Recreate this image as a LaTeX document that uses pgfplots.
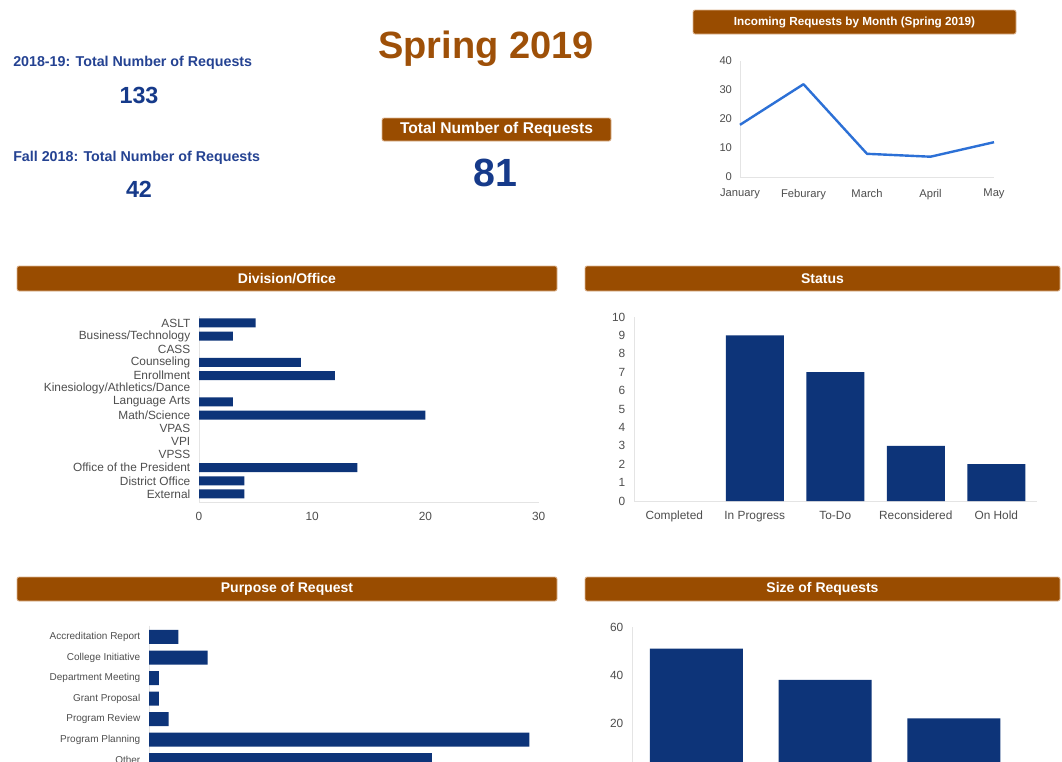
\documentclass[border=0pt]{standalone}
\usepackage{pgfplots}
\pgfplotsset{compat=1.18}
\usepackage{fontspec}
\setmainfont{Liberation Sans}
\definecolor{hdr}{RGB}{153,76,0}
\definecolor{hdredge}{RGB}{222,182,146}
\definecolor{springc}{RGB}{158,80,8}
\definecolor{numblue}{RGB}{22,58,138}
\definecolor{ttlblue}{RGB}{36,66,146}
\definecolor{barblue}{RGB}{13,52,121}
\definecolor{lineblue}{RGB}{44,112,214}
\definecolor{axgray}{RGB}{228,228,228}
\definecolor{lblgray}{RGB}{78,78,78}
\newcommand\hdrbox[6]{%
  \path[fill=hdr, draw=hdredge, line width=0.6pt, rounded corners=1.5pt] (#1,#2) rectangle (#3,#4);
  \node[text=white, inner sep=0pt, font=\bfseries\fontsize{#5}{#5}\selectfont] at ({(#1+#3)/2},{(#2+#4)/2}) {#6};}
\pgfplotsset{
  dash/.style={scale only axis, axis lines*=left,
    axis line style={draw=axgray, line width=0.75pt},
    major tick length=0pt, tick style={draw=none},
    ticklabel style={text=lblgray},
    /pgf/number format/assume math mode=true, clip=false},
}
\begin{document}
\begin{tikzpicture}
\useasboundingbox (0pt,0pt) rectangle (796.5pt,-570.75pt);
\fill[white] (0pt,0pt) rectangle (796.5pt,-570.75pt);
\clip (0pt,0pt) rectangle (796.5pt,-570.75pt);

\begin{scope}[x=0.75pt,y=-0.75pt]
% ---------- top-left figures ----------
\node[anchor=west, inner sep=0pt, text=ttlblue, font=\bfseries\fontsize{10.7}{12}\selectfont] at (13,62.5) {2018-19: Total Number of Requests};
\node[inner sep=0pt, text=numblue, font=\bfseries\fontsize{17.5}{20}\selectfont] at (139,95) {133};
\node[anchor=west, inner sep=0pt, text=ttlblue, font=\bfseries\fontsize{10.7}{12}\selectfont] at (13,157.5) {Fall 2018: Total Number of Requests};
\node[inner sep=0pt, text=numblue, font=\bfseries\fontsize{17.5}{20}\selectfont] at (139,189) {42};

% ---------- centre ----------
\node[inner sep=0pt, text=springc, font=\bfseries\fontsize{28.5}{30}\selectfont] at (486,49) {Spring 2019};
\hdrbox{382}{118}{611}{141}{11.7}{Total Number of Requests}
\node[inner sep=0pt, text=numblue, font=\bfseries\fontsize{29.5}{32}\selectfont] at (495,173) {81};

% ---------- headers ----------
\hdrbox{693}{10}{1016}{34}{8.8}{Incoming Requests by Month (Spring 2019)}
\hdrbox{17}{266}{557}{291}{10.5}{Division/Office}
\hdrbox{585}{266}{1060}{291}{10.5}{Status}
\hdrbox{17}{577}{557}{601}{10.5}{Purpose of Request}
\hdrbox{585}{577}{1060}{601}{10.5}{Size of Requests}
\end{scope}

% ---------- monthly line ----------
\begin{axis}[dash, at={(555pt,-132.75pt)}, anchor=south west,
  width=190.5pt, height=87pt,
  xmin=0, xmax=4, ymin=0, ymax=40,
  xtick={0,1,2,3,4}, xticklabels={January,Feburary,March,April,May},
  ytick={0,10,20,30,40},
  ticklabel style={font=\fontsize{8.4}{9}\selectfont},
  yticklabel style={xshift=-2.5pt},
  xticklabel style={yshift=-5.5pt}]
\addplot[lineblue, line width=1.8pt, line join=round] coordinates {(0,18) (1,32) (2,8) (3,7) (4,12)};
\end{axis}

% ---------- division / office ----------
\begin{axis}[dash, at={(149.25pt,-376.5pt)}, anchor=south west,
  width=254.7pt, height=139.5pt,
  xbar, bar width=6.75pt,
  xmin=0, xmax=30, y dir=reverse, ymin=-0.53, ymax=13.61,
  xtick={0,10,20,30},
  ytick={0,...,13},
  yticklabels={ASLT,Business/Technology,CASS,Counseling,Enrollment,Kinesiology/Athletics/Dance,Language Arts,Math/Science,VPAS,VPI,VPSS,Office of the President,District Office,External},
  ticklabel style={font=\fontsize{8.9}{9}\selectfont},
  yticklabel style={xshift=-3pt},
  xticklabel style={yshift=-4pt}]
\addplot[fill=barblue, draw=none, x filter/.expression={x==0 ? nan : x}] coordinates {(5,0) (3,1) (0,2) (9,3) (12,4) (0,5) (3,6) (20,7) (0,8) (0,9) (0,10) (14,11) (4,12) (4,13)};
\end{axis}

% ---------- status ----------
\begin{axis}[dash, at={(475.5pt,-375.75pt)}, anchor=south west,
  width=301.9pt, height=138pt,
  ybar, bar width=43.5pt,
  xmin=-0.5, xmax=4.5, ymin=0, ymax=10,
  xtick={0,1,2,3,4}, xticklabels={Completed,In Progress,To-Do,Reconsidered,On Hold},
  ytick={0,1,...,10},
  ticklabel style={font=\fontsize{8.9}{9}\selectfont},
  yticklabel style={xshift=-3pt},
  xticklabel style={yshift=-4pt}]
\addplot[fill=barblue, draw=none, y filter/.expression={y==0 ? nan : y}] coordinates {(0,0) (1,9) (2,7) (3,3) (4,2)};
\end{axis}

% ---------- purpose ----------
\begin{axis}[dash, at={(111.75pt,-469.275pt)}, anchor=north west,
  width=292.5pt, height=110pt,
  xbar, bar width=10.5pt,
  xmin=0, xmax=40, y dir=reverse, ymin=-0.55, ymax=6.6,
  xtick=\empty,
  ytick={0,...,6},
  yticklabels={Accreditation Report,College Initiative,Department Meeting,Grant Proposal,Program Review,Program Planning,Other},
  ticklabel style={font=\fontsize{7.5}{8}\selectfont},
  yticklabel style={xshift=-3pt}]
\addplot[fill=barblue, draw=none] coordinates {(3,0) (6,1) (1,2) (1,3) (2,4) (39,5) (29,6)};
\end{axis}

% ---------- size ----------
\begin{axis}[dash, at={(474pt,-578.475pt)}, anchor=south west,
  width=289.6pt, height=108.2pt,
  ybar, bar width=69.75pt,
  xmin=-0.5, xmax=2.5, ymin=0, ymax=60,
  xtick=\empty,
  ytick={20,40,60},
  ticklabel style={font=\fontsize{8.9}{9}\selectfont},
  yticklabel style={xshift=-3pt}]
\addplot[fill=barblue, draw=none] coordinates {(0,51) (1,38) (2,22)};
\end{axis}
\end{tikzpicture}
\end{document}
